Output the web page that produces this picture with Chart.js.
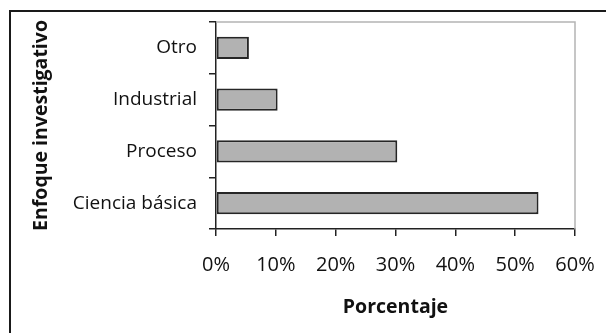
<!DOCTYPE html>
<html lang="es">
<head>
<meta charset="utf-8">
<title>Enfoque investigativo</title>
<script src="https://cdn.jsdelivr.net/npm/chart.js@4"></script>
<style>
  html, body { margin: 0; padding: 0; background: #fff; }
  #wrap { width: 606px; height: 333px; }
</style>
</head>
<body>
<div id="wrap"><canvas id="chart" width="606" height="333"></canvas></div>
<script>
const categories = ['Otro', 'Industrial', 'Proceso', 'Ciencia básica'];
const percentages = [5.5, 10.3, 30.3, 53.9];
const xTicks = [0, 10, 20, 30, 40, 50, 60];

const FONT = "'Open Sans', 'DejaVu Sans', sans-serif";

// outer frame plus the light grey top/right edge of the plot area
const framePlugin = {
  id: 'frame',
  beforeDatasetsDraw(chart) {
    const { ctx, chartArea } = chart;
    ctx.save();
    ctx.strokeStyle = '#b4b4b4';
    ctx.lineWidth = 1.5;
    ctx.beginPath();
    ctx.moveTo(chartArea.left, chartArea.top);
    ctx.lineTo(chartArea.right, chartArea.top);
    ctx.lineTo(chartArea.right, chartArea.bottom);
    ctx.stroke();
    ctx.restore();
  },
  afterDraw(chart) {
    const { ctx, width, height } = chart;
    ctx.save();
    ctx.strokeStyle = '#1a1a1a';
    ctx.lineWidth = 2;
    ctx.beginPath();
    ctx.moveTo(10, height);
    ctx.lineTo(10, 11);
    ctx.lineTo(width, 11);
    ctx.stroke();
    ctx.restore();
  }
};

new Chart(document.getElementById('chart'), {
  type: 'bar',
  data: {
    labels: categories,
    datasets: [{
      data: percentages,
      backgroundColor: '#b2b2b2',
      borderColor: '#262626',
      borderWidth: 2,
      borderSkipped: false,
      categoryPercentage: 1,
      barPercentage: 0.43
    }]
  },
  options: {
    indexAxis: 'y',
    responsive: false,
    animation: false,
    layout: { padding: { left: 12, top: 22, right: 31, bottom: 0 } },
    plugins: {
      legend: { display: false },
      tooltip: { enabled: false }
    },
    scales: {
      x: {
        min: 0,
        max: 60,
        afterBuildTicks: scale => { scale.ticks = xTicks.map(v => ({ value: v })); },
        afterFit: scale => {
          scale.height = 104;
          scale.paddingLeft = 0;
          scale.paddingRight = 0;
        },
        ticks: {
          callback: v => v + '%',
          color: '#111',
          font: { family: FONT, size: 20 },
          padding: 17,
          maxRotation: 0
        },
        grid: { drawOnChartArea: false, color: '#222', tickLength: 7, lineWidth: 1.5 },
        border: { color: '#222', width: 1.5 },
        title: {
          display: true,
          text: 'Porcentaje',
          color: '#111',
          font: { family: FONT, size: 19.5, weight: 'bold' },
          padding: { top: 0, bottom: 14 }
        }
      },
      y: {
        afterFit: scale => {
          scale.width = 204;
          scale.paddingTop = 0;
          scale.paddingBottom = 0;
        },
        ticks: {
          color: '#111',
          font: { family: FONT, size: 19 },
          padding: 12
        },
        grid: { drawOnChartArea: false, color: '#222', tickLength: 7, lineWidth: 1.5 },
        border: { color: '#222', width: 1.5 },
        title: {
          display: true,
          text: 'Enfoque investigativo',
          color: '#111',
          font: { family: FONT, size: 19.5, weight: 'bold' },
          padding: { top: 18, bottom: 0 }
        }
      }
    }
  },
  plugins: [framePlugin]
});
</script>
</body>
</html>
